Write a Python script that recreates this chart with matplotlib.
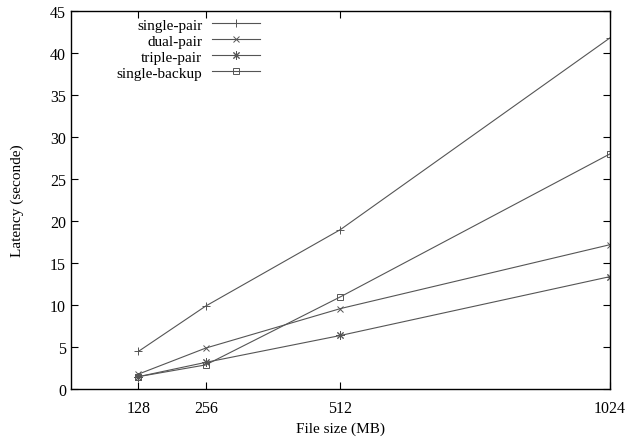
import matplotlib
matplotlib.use("Agg")
import matplotlib.pyplot as plt

file_sizes = [128, 256, 512, 1024]
single_pair = [4.5, 9.9, 19.0, 41.8]
dual_pair = [1.8, 4.9, 9.6, 17.2]
triple_pair = [1.5, 3.2, 6.4, 13.4]
single_backup = [1.5, 2.9, 11.0, 28.0]

y_ticks = [0, 5, 10, 15, 20, 25, 30, 35, 40, 45]

plt.rcParams["font.family"] = ["Liberation Serif", "DejaVu Serif"]
plt.rcParams["font.size"] = 11

fig, ax = plt.subplots(figsize=(6.26, 4.39), dpi=100)
fig.subplots_adjust(left=0.1134, right=0.9744, bottom=0.111, top=0.9727)

line_color = "#555555"
series = [
    ("single-pair", single_pair, "+", 6),
    ("dual-pair", dual_pair, "x", 5),
    ("triple-pair", triple_pair, (8, 2, 0), 6),
    ("single-backup", single_backup, "s", 5),
]
for label, values, marker, ms in series:
    kw = dict(mfc="none") if marker == "s" else {}
    ax.plot(
        file_sizes,
        values,
        color=line_color,
        linewidth=0.8,
        marker=marker,
        markersize=ms,
        markeredgewidth=0.7,
        label=label,
        **kw,
    )

ax.set_xlim(0, 1024)
ax.set_ylim(0, 45)
ax.set_xticks(file_sizes)
ax.set_yticks(y_ticks)
ax.tick_params(direction="in", top=True, right=True, length=5, width=0.8, labelsize=11.5)
ax.tick_params(axis="x", pad=8)
for s in ax.spines.values():
    s.set_linewidth(1.0)

ax.set_xlabel("File size (MB)", fontsize=11)
ax.set_ylabel("Latency (seconde)", fontsize=11, labelpad=19)

ax.legend(
    loc="upper right",
    bbox_to_anchor=(0.377, 1.018),
    frameon=False,
    markerfirst=False,
    handlelength=3.2,
    labelspacing=0.15,
    handletextpad=0.6,
    fontsize=11,
)

fig.savefig("out.png", dpi=100)
